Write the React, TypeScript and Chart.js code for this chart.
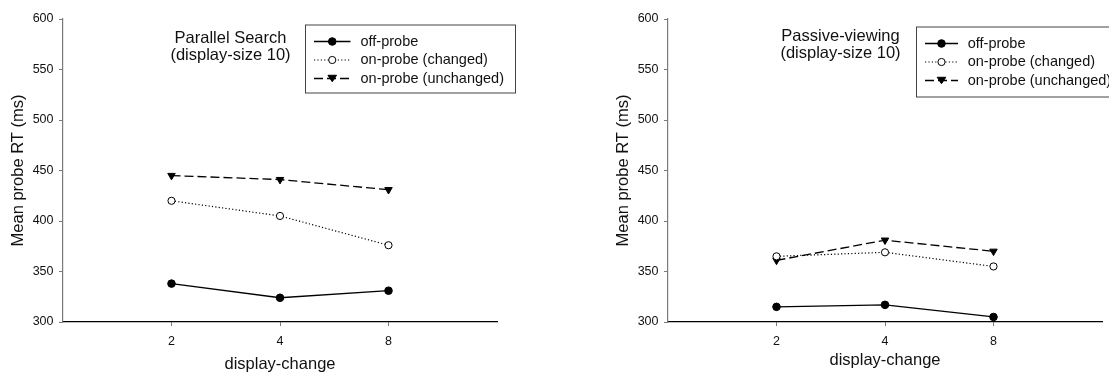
import React, { useEffect, useRef } from 'react';
import { Chart, registerables } from 'chart.js';

Chart.register(...registerables);

// ---------- data ----------
const categories = ['2', '4', '8'];
const seriesLabels = ['off-probe', 'on-probe (changed)', 'on-probe (unchanged)'];
const yTickValues = [300, 350, 400, 450, 500, 550, 600];

const parallelOff = [338, 324, 331];
const parallelChanged = [420, 405, 376];
const parallelUnchanged = [445, 441, 431];

const passiveOff = [315, 317, 305];
const passiveChanged = [365, 369, 355];
const passiveUnchanged = [361, 381, 370];

const parallelTitle = ['Parallel Search', '(display-size 10)'];
const passiveTitle = ['Passive-viewing', '(display-size 10)'];

const xAxisTitle = 'display-change';
const yAxisTitle = 'Mean probe RT (ms)';

// ---------- styling ----------
const FONT = "Arial, 'Liberation Sans', Helvetica, sans-serif";
const INK = '#111111';
const AXIS_GREY = '#7a7a7a';

type Layout = {
  canvasLeft: number;
  canvasWidth: number;
  xTitleBottomPad: number;
  titleX: number;
  titleY: number[];
  box: { x: number; y: number; w: number; h: number };
  rowsY: number[];
  sampleX0: number;
  sampleX1: number;
  textX: number;
};

const seriesStyles = [
  { dash: [] as number[], point: 'circle', fill: '#000000', radius: 3.8, width: 1.3 },
  { dash: [1.2, 2.2], point: 'circle', fill: '#ffffff', radius: 3.6, width: 1.2 },
  { dash: [9, 4], point: 'triangle', fill: '#000000', radius: 4.3, width: 1.3 },
];

function drawMarker(ctx: CanvasRenderingContext2D, kind: string, x: number, y: number, r: number, fill: string) {
  ctx.save();
  ctx.setLineDash([]);
  ctx.lineWidth = 1;
  ctx.strokeStyle = '#000';
  ctx.fillStyle = fill;
  ctx.beginPath();
  if (kind === 'circle') {
    ctx.arc(x, y, r, 0, Math.PI * 2);
  } else {
    // downward triangle
    const h = r * 1.5;
    ctx.moveTo(x - r, y - h / 2);
    ctx.lineTo(x + r, y - h / 2);
    ctx.lineTo(x, y + h / 2);
    ctx.closePath();
  }
  ctx.fill();
  ctx.stroke();
  ctx.restore();
}

const overlayPlugin = {
  id: 'overlay',
  afterDraw(chart: any) {
    const L: Layout = chart.options.plugins.overlay.layout;
    const ctx: CanvasRenderingContext2D = chart.ctx;
    ctx.save();
    // in-plot title
    ctx.font = `16.5px ${FONT}`;
    ctx.fillStyle = INK;
    ctx.textAlign = 'center';
    ctx.textBaseline = 'middle';
    const titleLines: string[] = chart.options.plugins.overlay.title;
    titleLines.forEach((t, i) => ctx.fillText(t, L.titleX, L.titleY[i]));

    // legend box
    ctx.fillStyle = '#ffffff';
    ctx.fillRect(L.box.x, L.box.y, L.box.w, L.box.h);
    ctx.strokeStyle = '#444444';
    ctx.lineWidth = 1;
    ctx.strokeRect(L.box.x + 0.5, L.box.y + 0.5, L.box.w, L.box.h);

    chart.data.datasets.forEach((ds: any, i: number) => {
      const st = seriesStyles[i];
      const y = L.rowsY[i];
      ctx.save();
      ctx.strokeStyle = '#000';
      ctx.lineWidth = st.width;
      ctx.setLineDash(st.dash);
      ctx.beginPath();
      ctx.moveTo(L.sampleX0, y);
      ctx.lineTo(L.sampleX1, y);
      ctx.stroke();
      ctx.restore();
      drawMarker(ctx, st.point, (L.sampleX0 + L.sampleX1) / 2, y, st.radius, st.fill);
      ctx.font = `14.5px ${FONT}`;
      ctx.fillStyle = INK;
      ctx.textAlign = 'left';
      ctx.textBaseline = 'middle';
      ctx.fillText(ds.label, L.textX, y);
    });
    ctx.restore();
  },
};

function makeDatasets(off: number[], changed: number[], unchanged: number[]) {
  return [off, changed, unchanged].map((vals, i) => {
    const st = seriesStyles[i];
    return {
      label: seriesLabels[i],
      data: vals.map((v, j) => ({ x: j + 1, y: v })),
      borderColor: '#000000',
      borderWidth: st.width,
      borderDash: st.dash,
      pointStyle: st.point,
      rotation: st.point === 'triangle' ? 180 : 0,
      pointRadius: st.radius,
      pointBackgroundColor: st.fill,
      pointBorderColor: '#000000',
      pointBorderWidth: 1,
      tension: 0,
      fill: false,
    };
  });
}

function ChartPanel(props: { datasets: any[]; title: string[]; layout: Layout }) {
  const ref = useRef<HTMLCanvasElement | null>(null);
  useEffect(() => {
    if (!ref.current) return;
    const L = props.layout;
    const chart = new Chart(ref.current, {
      type: 'line',
      data: { datasets: props.datasets },
      plugins: [overlayPlugin],
      options: {
        animation: false,
        responsive: false,
        devicePixelRatio: 1,
        layout: { padding: { top: 19, right: L.canvasWidth - 497, bottom: 0, left: 0 } },
        plugins: {
          legend: { display: false },
          tooltip: { enabled: false },
          title: { display: false },
          overlay: { layout: L, title: props.title },
        } as any,
        scales: {
          x: {
            type: 'linear',
            min: 0,
            max: 4,
            afterBuildTicks: (scale: any) => {
              scale.ticks = categories.map((_, i) => ({ value: i + 1 }));
            },
            afterFit: (scale: any) => {
              scale.height = 51;
            },
            ticks: {
              callback: (v: any) => categories[Number(v) - 1] ?? '',
              font: { family: FONT, size: 12.5 },
              color: INK,
              padding: 8.5,
              maxRotation: 0,
              autoSkip: false,
            },
            grid: {
              display: true,
              drawOnChartArea: false,
              drawTicks: true,
              tickLength: 4,
              color: AXIS_GREY,
            },
            border: { display: true, color: '#000000', width: 1.3 },
            title: {
              display: true,
              text: xAxisTitle,
              font: { family: FONT, size: 16.5 },
              color: INK,
              padding: { top: 0, bottom: L.xTitleBottomPad },
            },
          },
          y: {
            type: 'linear',
            min: 300,
            max: 600,
            afterBuildTicks: (scale: any) => {
              scale.ticks = yTickValues.map((v) => ({ value: v }));
            },
            afterFit: (scale: any) => {
              scale.width = 63;
            },
            ticks: {
              font: { family: FONT, size: 12.5 },
              color: INK,
              padding: 5.5,
            },
            grid: {
              display: true,
              drawOnChartArea: false,
              drawTicks: true,
              tickLength: 4,
              color: AXIS_GREY,
            },
            border: { display: true, color: AXIS_GREY, width: 1.2 },
            title: {
              display: true,
              text: yAxisTitle,
              font: { family: FONT, size: 16.5 },
              color: INK,
              padding: { top: 9, bottom: 0 },
            },
          },
        },
      } as any,
    });
    return () => chart.destroy();
  }, []);
  const L = props.layout;
  return (
    <canvas
      ref={ref}
      width={L.canvasWidth}
      height={373}
      style={{ position: 'absolute', left: L.canvasLeft, top: 0, width: L.canvasWidth, height: 373, display: 'block' }}
    />
  );
}

const leftLayout: Layout = {
  canvasLeft: 0,
  canvasWidth: 555,
  xTitleBottomPad: -1.5,
  titleX: 230.5,
  titleY: [38.5, 55.5],
  box: { x: 305, y: 24.5, w: 210, h: 68 },
  rowsY: [41.5, 60, 78.5],
  sampleX0: 314,
  sampleX1: 350.5,
  textX: 360.5,
};

const rightLayout: Layout = {
  canvasLeft: 605,
  canvasWidth: 504,
  xTitleBottomPad: 2.5,
  titleX: 235.5,
  titleY: [36.7, 53.3],
  box: { x: 311, y: 26.5, w: 210, h: 70 },
  rowsY: [43.5, 62, 80.5],
  sampleX0: 320,
  sampleX1: 353,
  textX: 362.7,
};

export default function App() {
  return (
    <div style={{ position: 'absolute', left: 0, top: 0, width: 1109, height: 373, overflow: 'hidden', background: '#ffffff' }}>
      <ChartPanel datasets={makeDatasets(parallelOff, parallelChanged, parallelUnchanged)} title={parallelTitle} layout={leftLayout} />
      <ChartPanel datasets={makeDatasets(passiveOff, passiveChanged, passiveUnchanged)} title={passiveTitle} layout={rightLayout} />
    </div>
  );
}
